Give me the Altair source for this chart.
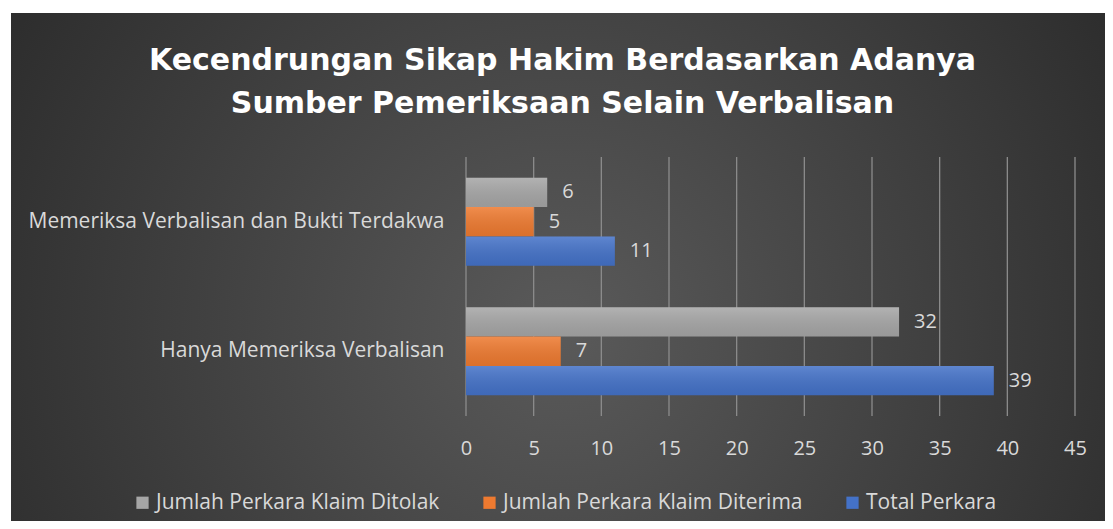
import altair as alt
import pandas as pd

categories = ["Memeriksa Verbalisan dan Bukti Terdakwa", "Hanya Memeriksa Verbalisan"]
series = ["Jumlah Perkara Klaim Ditolak", "Jumlah Perkara Klaim Diterima", "Total Perkara"]
ditolak = [6, 32]
diterima = [5, 7]
total = [11, 39]
colors = ["#a6a6a6", "#ee7a30", "#4472c8"]
x_ticks = [0, 5, 10, 15, 20, 25, 30, 35, 40, 45]
title_lines = ["Kecendrungan Sikap Hakim Berdasarkan Adanya",
               "Sumber Pemeriksaan Selain Verbalisan"]

rows = []
for i, c in enumerate(categories):
    for s, vals in zip(series, [ditolak, diterima, total]):
        rows.append({"kategori": c, "seri": s, "nilai": vals[i]})
df = pd.DataFrame(rows)
grid_df = pd.DataFrame({"nilai": x_ticks})

LABEL = "#d9d9d9"
FONT = "Open Sans"

bg = alt.Chart(pd.DataFrame({"d": [0]})).mark_rect(
    color=alt.RadialGradient(
        gradient="radial",
        stops=[alt.GradientStop(offset=0, color="#5a5a5a"),
               alt.GradientStop(offset=1, color="#252525")],
        x1=0.5, y1=0.55, r1=0, x2=0.5, y2=0.55, r2=0.68)
).encode(
    x=alt.value(-455), x2=alt.value(647), y=alt.value(-144), y2=alt.value(380)
)

x_scale = alt.Scale(domain=[0, 45], nice=False)
x_axis = alt.Axis(values=x_ticks, labelFont=FONT, labelFontSize=20,
                  labelColor=LABEL, labelPadding=22, ticks=False, domain=False,
                  grid=False, zindex=2, labelFlush=False, labelOverlap=False)
x_enc = alt.X("nilai:Q", title=None, scale=x_scale, axis=x_axis)

grid = alt.Chart(grid_df).mark_rule(color="#8c8c8c", strokeWidth=1.3).encode(
    x=x_enc, y=alt.value(0), y2=alt.value(259)
)

y_enc = alt.Y("kategori:N", sort=categories, title=None,
              scale=alt.Scale(paddingInner=0.32, paddingOuter=0.16),
              axis=alt.Axis(labelFont=FONT, labelFontSize=21, labelColor=LABEL,
                            labelPadding=22, ticks=False, domain=False, labelLimit=500,
                            zindex=2))
yoff = alt.YOffset("seri:N", sort=series)

bars = alt.Chart(df).mark_bar().encode(
    y=y_enc, yOffset=yoff, x=x_enc,
    color=alt.Color("seri:N", sort=series, title=None,
                    scale=alt.Scale(domain=series, range=colors),
                    legend=alt.Legend(orient="none", legendX=-334, legendY=335,
                                      direction="horizontal", symbolType="square",
                                      symbolSize=150, symbolStrokeWidth=0,
                                      labelFont=FONT, labelFontSize=21, labelColor=LABEL,
                                      labelOffset=3, columnPadding=39, padding=0,
                                      labelLimit=400))
)

shade = alt.Chart(df).mark_bar(
    color=alt.LinearGradient(
        gradient="linear",
        stops=[alt.GradientStop(offset=0, color="rgba(255,255,255,0.14)"),
               alt.GradientStop(offset=1, color="rgba(0,0,0,0.08)")],
        x1=0, y1=0, x2=0, y2=1)
).encode(y=y_enc, yOffset=yoff, x=x_enc)

labels = alt.Chart(df).mark_text(
    align="left", baseline="middle", dx=15, font=FONT, fontSize=20, color=LABEL
).encode(y=y_enc, yOffset=yoff, x=x_enc, text="nilai:Q")

chart = alt.layer(bg, grid, bars, shade, labels).properties(
    width=609, height=259,
    padding={"left": 458, "top": 149, "right": 30, "bottom": 105},
    autosize=alt.AutoSizeParams(type="none"),
    title=alt.TitleParams(text=title_lines, font="DejaVu Sans", fontWeight="bold",
                          fontSize=30, color="white", lineHeight=43,
                          anchor="middle", frame="group", dx=-208, dy=106, offset=0)
).configure_view(stroke=None).configure(background="white")

chart.save("out.html", embed_options={"renderer": "svg", "actions": False})
